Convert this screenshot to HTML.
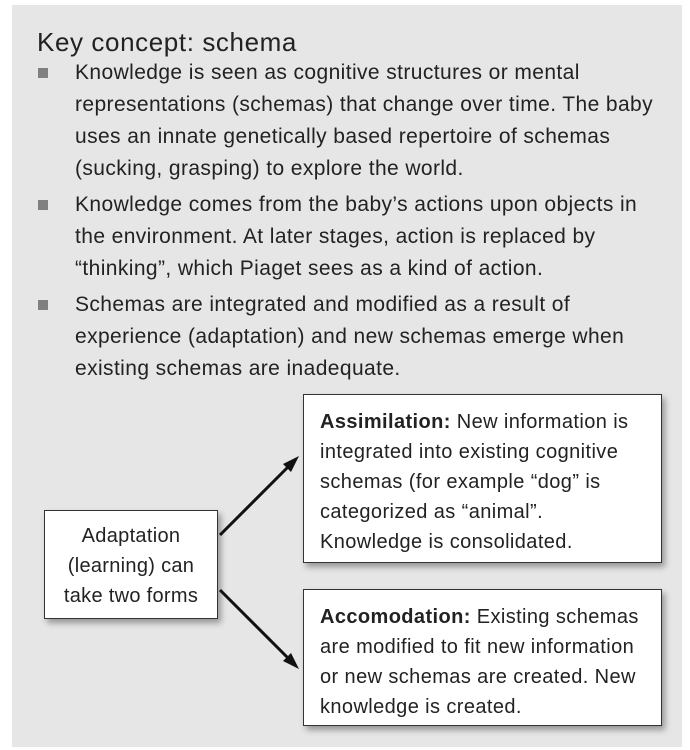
<!DOCTYPE html>
<html><head><style>
body{margin:0;width:690px;height:750px;background:#fff;position:relative;font-family:"Liberation Sans",sans-serif;color:#222;overflow:hidden}
.panel{position:absolute;left:12px;top:5px;width:670px;height:742px;background:#e6e6e6}
.t{position:absolute;left:37px;top:27px;font-size:26px;letter-spacing:0.6px}
.b{position:absolute;left:75px;font-size:21px;line-height:32px;letter-spacing:0.4px;white-space:nowrap}
.sq{position:absolute;left:38px;width:10px;height:10px;background:#808080}
.box{position:absolute;background:#fff;border:1px solid #333;box-shadow:3px 4px 6px rgba(0,0,0,.35);font-size:20px;line-height:30px;letter-spacing:0.4px;white-space:nowrap}
</style></head><body>
<div class="panel"></div>
<div class="t">Key concept: schema</div>
<div class="sq" style="top:68px"></div>
<div class="b" style="top:57px">Knowledge is seen as cognitive structures or mental<br>representations (schemas) that change over time. The baby<br>uses an innate genetically based repertoire of schemas<br>(sucking, grasping) to explore the world.</div>
<div class="sq" style="top:200px"></div>
<div class="b" style="top:189px">Knowledge comes from the baby’s actions upon objects in<br>the environment. At later stages, action is replaced by<br>“thinking”, which Piaget sees as a kind of action.</div>
<div class="sq" style="top:300px"></div>
<div class="b" style="top:289px">Schemas are integrated and modified as a result of<br>experience (adaptation) and new schemas emerge when<br>existing schemas are inadequate.</div>
<div class="box" style="left:44px;top:510px;width:174px;height:109px;text-align:center;padding-top:10px;box-sizing:border-box;letter-spacing:0.3px">Adaptation<br>(learning) can<br>take two forms</div>
<div class="box" style="left:303px;top:394px;width:359px;height:169px;padding:12px 0 0 16px;box-sizing:border-box"><b>Assimilation:</b> New information is<br>integrated into existing cognitive<br>schemas (for example “dog” is<br>categorized as “animal”.<br>Knowledge is consolidated.</div>
<div class="box" style="left:303px;top:589px;width:359px;height:137px;padding:12px 0 0 16px;box-sizing:border-box"><b>Accomodation:</b> Existing schemas<br>are modified to fit new information<br>or new schemas are created. New<br>knowledge is created.</div>
<svg style="position:absolute;left:0;top:0" width="690" height="750">
<line x1="220" y1="535" x2="292" y2="463" stroke="#111" stroke-width="3"/>
<polygon points="299,456 283,464 291,472" fill="#111"/>
<line x1="220" y1="590" x2="292" y2="662" stroke="#111" stroke-width="3"/>
<polygon points="299,669 283,661 291,653" fill="#111"/>
</svg>
</body></html>
